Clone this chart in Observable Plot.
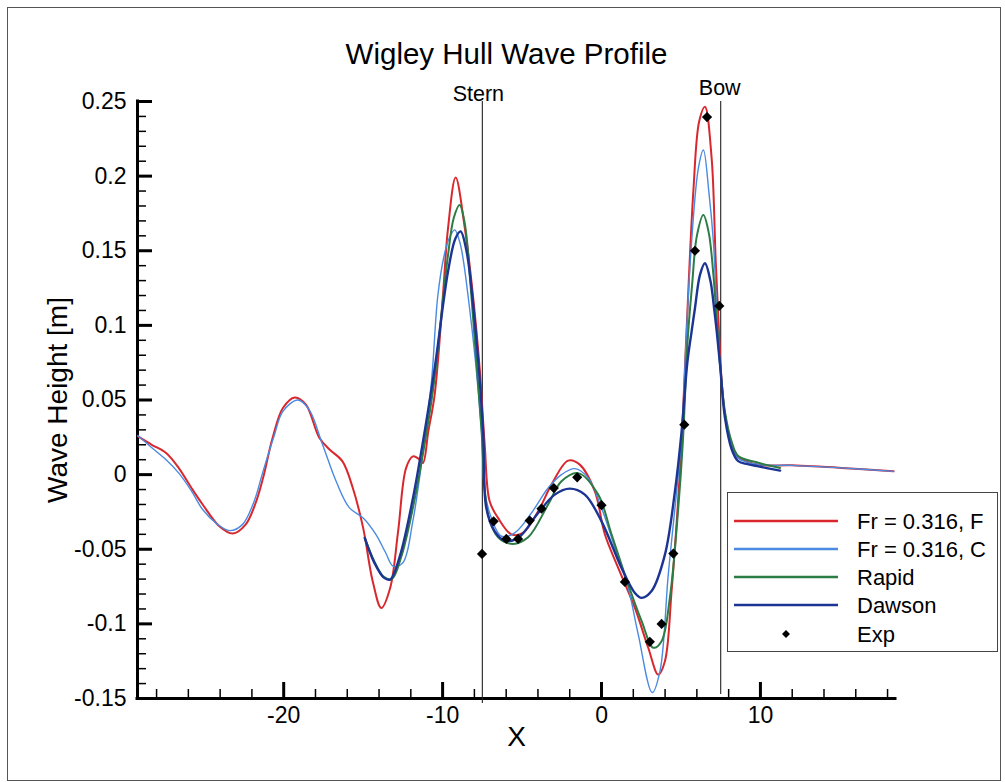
<!DOCTYPE html>
<html>
<head>
<meta charset="utf-8">
<script src="https://cdn.jsdelivr.net/npm/d3@7"></script>
<script src="https://cdn.jsdelivr.net/npm/@observablehq/plot@0.6"></script>
<style>
  html, body { margin: 0; padding: 0; background: #fff; }
  #page { position: relative; width: 1005px; height: 782px; overflow: hidden;
          font-family: "Liberation Sans", Arial, Helvetica, sans-serif; }
  #frame { position: absolute; left: 7px; top: 7px; width: 994px; height: 774px;
           border: 1.5px solid #555; box-sizing: border-box; pointer-events: none; }
  #chart { position: absolute; left: 0; top: 0; }
  #legend { position: absolute; left: 727px; top: 492px; width: 271px; height: 160px;
            border: 1.5px solid #444; box-sizing: border-box; background: #fff; }
</style>
</head>
<body>
<div id="page">
  <div id="frame"></div>
  <div id="chart"></div>
  <div id="legend"></div>
</div>
<script>
// ---- Wave profile along the Wigley hull (x in m, wave height in m) ----

// Fine grid solution, Fr = 0.316
const xF = [-29.17, -28.3, -27.4, -26.6, -25.8, -25.1, -24.05, -23.2, -22.4, -21.8, -21.3, -20.7, -20.05, -19.3, -18.6, -17.75, -17.1, -16.3, -15.65, -15.0, -14.4, -13.86, -13.3, -12.8, -12.3, -11.87, -11.5, -11.24, -10.9, -10.5, -9.98, -9.66, -9.18, -8.6, -8.09, -7.67, -7.35, -7.04, -6.51, -5.67, -4.94, -3.99, -3.15, -2.1, -1.37, -0.42, 0.21, 1.05, 2.1, 2.94, 3.57, 3.99, 4.41, 4.79, 5.08, 5.35, 5.78, 6.15, 6.51, 6.93, 7.18, 7.39, 7.5, 7.77, 8.19, 8.6, 9.87, 11.97, 15.1, 18.38];
const yF = [0.0256, 0.020, 0.0145, 0.0044, -0.009, -0.020, -0.0346, -0.0395, -0.0335, -0.020, -0.0023, 0.0245, 0.0446, 0.0517, 0.0469, 0.0245, 0.0167, 0.0089, -0.009, -0.0357, -0.0714, -0.0893, -0.0759, -0.038, 0.0044, 0.0122, 0.0105, 0.0078, 0.029, 0.0535, 0.120, 0.165, 0.199, 0.165, 0.120, 0.0714, 0.020, -0.0179, -0.029, -0.040, -0.039, -0.0246, -0.0067, 0.0094, 0.0067, -0.0112, -0.040, -0.0625, -0.0893, -0.116, -0.134, -0.125, -0.078, -0.0223, 0.030, 0.096, 0.190, 0.237, 0.2465, 0.212, 0.145, 0.096, 0.072, 0.040, 0.020, 0.012, 0.0067, 0.0062, 0.0045, 0.0022];

// Coarse grid solution, Fr = 0.316
const xC = [-29.17, -28.3, -27.4, -26.6, -25.8, -25.1, -24.2, -23.4, -22.6, -21.9, -21.3, -20.6, -20.05, -19.1, -18.4, -17.55, -16.7, -15.86, -15.0, -14.2, -13.6, -13.1, -12.5, -11.87, -11.2, -10.7, -10.3, -9.9, -9.6, -9.24, -8.9, -8.4, -7.56, -7.35, -6.93, -6.3, -5.46, -4.41, -3.36, -2.52, -1.68, -0.84, 0, 1.05, 1.68, 2.31, 3.19, 3.68, 4.2, 4.73, 5.02, 5.35, 5.6, 6.09, 6.41, 6.75, 7.04, 7.31, 7.46, 7.77, 8.19, 8.6, 9.87, 11.97, 15.1, 18.38];
const yC = [0.026, 0.018, 0.010, 0.001, -0.011, -0.0234, -0.033, -0.0375, -0.0335, -0.019, 0.0022, 0.026, 0.0424, 0.050, 0.0435, 0.020, -0.0045, -0.0223, -0.029, -0.040, -0.052, -0.0614, -0.059, -0.031, 0.018, 0.0625, 0.12, 0.147, 0.158, 0.164, 0.155, 0.12, 0.031, -0.0112, -0.029, -0.0413, -0.039, -0.0257, -0.009, 0.0, 0.004, -0.0022, -0.0223, -0.0558, -0.0759, -0.107, -0.146, -0.1316, -0.067, -0.011, 0.0223, 0.096, 0.145, 0.205, 0.2175, 0.19, 0.156, 0.096, 0.0736, 0.040, 0.020, 0.011, 0.0067, 0.0062, 0.0045, 0.0022];

// Rapid
const xR = [-14.9, -14.3, -13.7, -13.2, -12.6, -11.87, -11.0, -10.5, -10.0, -9.66, -9.3, -8.93, -8.6, -8.19, -7.56, -7.14, -6.51, -5.57, -4.62, -3.36, -2.52, -1.47, -0.21, 0.63, 1.68, 2.52, 3.26, 3.78, 4.3, 4.83, 5.12, 5.42, 5.7, 6.0, 6.41, 6.75, 7.04, 7.3, 7.46, 7.77, 8.19, 8.6, 9.87, 11.24];
const yR = [-0.0424, -0.058, -0.0685, -0.070, -0.055, -0.0223, 0.029, 0.065, 0.115, 0.147, 0.172, 0.1807, 0.168, 0.120, 0.031, -0.0268, -0.042, -0.0464, -0.042, -0.020, -0.0045, 0.001, -0.0134, -0.040, -0.0736, -0.098, -0.116, -0.1116, -0.0826, -0.0223, 0.0223, 0.090, 0.127, 0.160, 0.174, 0.162, 0.134, 0.096, 0.0736, 0.042, 0.022, 0.0125, 0.008, 0.0045];

// Dawson
const xD = [-14.9, -14.3, -13.7, -13.3, -12.7, -11.87, -11.3, -10.5, -9.66, -9.2, -8.87, -8.5, -8.1, -7.46, -7.25, -6.72, -6.09, -5.25, -3.99, -2.94, -2.0, -1.05, 0, 1.26, 2.1, 2.52, 3.15, 3.99, 4.62, 5.05, 5.4, 5.67, 5.88, 6.2, 6.51, 6.85, 7.1, 7.25, 7.46, 7.77, 8.19, 8.6, 9.2, 9.87, 11.24];
const yD = [-0.0424, -0.059, -0.069, -0.0703, -0.055, -0.016, 0.018, 0.0714, 0.136, 0.158, 0.163, 0.150, 0.116, 0.031, -0.0223, -0.038, -0.0442, -0.0424, -0.0257, -0.0134, -0.0094, -0.0134, -0.0313, -0.0625, -0.0793, -0.0826, -0.078, -0.0536, -0.0112, 0.030, 0.075, 0.096, 0.1115, 0.134, 0.1416, 0.130, 0.110, 0.096, 0.0736, 0.038, 0.017, 0.009, 0.007, 0.0055, 0.0027];

// Experiment
const xE = [-7.52, -6.79, -5.99, -5.25, -4.52, -3.78, -3.0, -1.53, 0.0, 1.47, 3.04, 3.78, 4.52, 5.21, 5.88, 6.64, 7.41];
const yE = [-0.0531, -0.0313, -0.0431, -0.0431, -0.0308, -0.0228, -0.009, -0.0018, -0.0205, -0.0719, -0.112, -0.100, -0.0529, 0.0335, 0.150, 0.2396, 0.113];

// Series names and hull ends
const seriesNames = ["Fr = 0.316, F", "Fr = 0.316, C", "Rapid", "Dawson"];
const expName = "Exp";
const stationNames = ["Stern", "Bow"];
const stationX = [-7.5, 7.5];

// Axes
const xDomain = [-29.2, 18.5];
const yDomain = [-0.15, 0.25];
const xMajor = [-20, -10, 0, 10];
const yMajor = [-0.15, -0.1, -0.05, 0, 0.05, 0.1, 0.15, 0.2, 0.25];
const xMinor = d3.range(-28, 19, 2).filter(v => !xMajor.includes(v));
const yMinor = d3.range(-15, 26).filter(v => v % 5 !== 0).map(v => v / 100);

const titleText = "Wigley Hull Wave Profile";
const xLabel = "X";
const yLabel = "Wave Height [m]";

// ---- styling ----
const FONT = '"Liberation Sans", Arial, Helvetica, sans-serif';
const styles = [
  {color: "#d8282e", width: 2.0},
  {color: "#4a8ae0", width: 1.4},
  {color: "#2c7c45", width: 2.0},
  {color: "#1c3494", width: 2.4}
];
const xsList = [xF, xC, xR, xD];
const ysList = [yF, yC, yR, yD];

const lineData = seriesNames.map((name, i) =>
  xsList[i].map((x, j) => ({series: name, x, y: ysList[i][j]})));
const expData = xE.map((x, i) => ({x, y: yE[i]}));

const W = 1005, H = 782;
const chart = Plot.plot({
  width: W, height: H,
  marginLeft: 137, marginRight: 110, marginTop: 101, marginBottom: 84,
  x: {domain: xDomain},
  y: {domain: yDomain},
  style: {fontFamily: FONT, fontSize: "23px", color: "#000", background: "transparent", overflow: "visible"},
  marks: [
    // minor and major ticks, pointing into the plot
    Plot.axisX(xMinor, {tickSize: -9, strokeWidth: 1.5, fill: "none", label: null}),
    Plot.axisY(yMinor, {tickSize: -9, strokeWidth: 1.5, fill: "none", label: null}),
    Plot.axisX(xMajor, {tickSize: -16, tickPadding: 24, strokeWidth: 3, tickFormat: d => String(d), label: null, fontSize: 23}),
    Plot.axisY(yMajor, {tickSize: -15, tickPadding: 26, strokeWidth: 3, tickFormat: d => String(d), label: null, fontSize: 23}),
    // axis lines
    Plot.ruleX([xDomain[0]], {y1: yDomain[0], y2: yDomain[1], strokeWidth: 3, stroke: "#000", strokeLinecap: "square"}),
    Plot.ruleY([yDomain[0]], {x1: xDomain[0], x2: xDomain[1], strokeWidth: 3, stroke: "#000", strokeLinecap: "square"}),
    // stern and bow stations
    Plot.ruleX([stationX[0]], {y1: yDomain[0], y2: yDomain[1], insetTop: 5, stroke: "#222", strokeWidth: 1.1}),
    Plot.ruleX([stationX[1]], {y1: yDomain[0], y2: yDomain[1], insetTop: -4, stroke: "#222", strokeWidth: 1.1}),
    Plot.text([stationNames[0]], {x: stationX[0], y: yDomain[1], text: d => d, dx: -4, dy: -1, lineAnchor: "bottom", fontSize: 21.5, fill: "#000"}),
    Plot.text([stationNames[1]], {x: stationX[1], y: yDomain[1], text: d => d, dx: -1, dy: -7, lineAnchor: "bottom", fontSize: 21.5, fill: "#000"}),
    // computed profiles
    ...lineData.map((d, i) => Plot.line(d, {x: "x", y: "y", stroke: styles[i].color, strokeWidth: styles[i].width, curve: "catmull-rom"})),
    // measurements
    Plot.dot(expData, {x: "x", y: "y", symbol: "diamond2", r: 4.6, fill: "#000", stroke: "none"}),
    // title and axis labels
    Plot.text([titleText], {frameAnchor: "top", textAnchor: "middle", dx: -10, dy: -38, lineAnchor: "bottom", fontSize: 29.5, fill: "#000"}),
    Plot.text([xLabel], {frameAnchor: "bottom", textAnchor: "middle", dy: 39, lineAnchor: "middle", fontSize: 28, fill: "#000"}),
    Plot.text([yLabel], {frameAnchor: "left", textAnchor: "middle", dx: -79, rotate: -90, lineAnchor: "middle", fontSize: 28, fill: "#000"})
  ]
});
document.getElementById("chart").appendChild(chart);

// ---- legend ----
const lg = d3.select("#legend").append("svg")
  .attr("width", 268).attr("height", 157)
  .style("position", "absolute").style("left", "0px").style("top", "0px");
const rowY = [28, 56, 84, 112, 141];
seriesNames.forEach((name, i) => {
  lg.append("line").attr("x1", 6).attr("x2", 110).attr("y1", rowY[i]).attr("y2", rowY[i])
    .attr("stroke", styles[i].color).attr("stroke-width", 2.6);
  lg.append("text").attr("x", 129).attr("y", rowY[i]).attr("dy", "0.35em")
    .attr("font-family", FONT).attr("font-size", 22).text(name);
});
lg.append("path")
  .attr("transform", `translate(58,${rowY[4]})`)
  .attr("d", d3.symbol(d3.symbolDiamond2, 40)())
  .attr("fill", "#000");
lg.append("text").attr("x", 129).attr("y", rowY[4]).attr("dy", "0.35em")
  .attr("font-family", FONT).attr("font-size", 22).text(expName);
</script>
</body>
</html>
